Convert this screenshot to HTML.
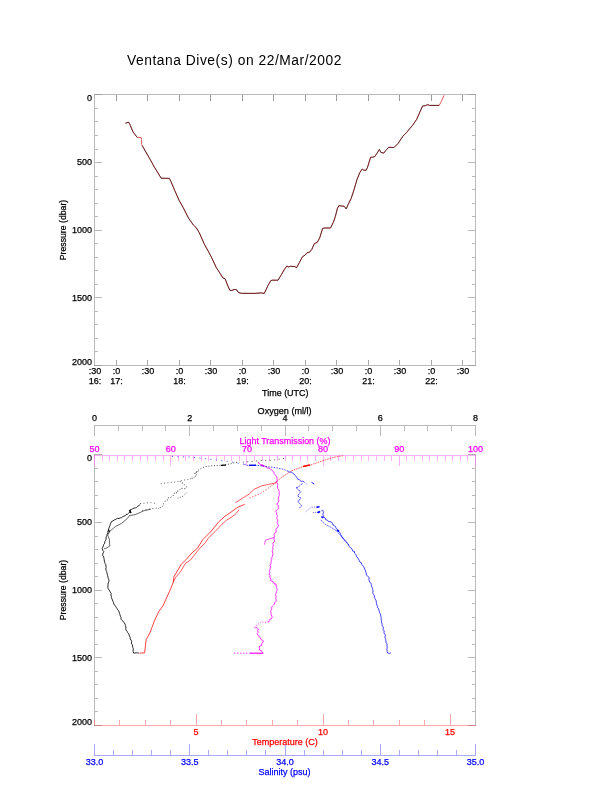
<!DOCTYPE html>
<html><head><meta charset="utf-8"><title>Ventana Dive(s) on 22/Mar/2002</title>
<style>
html,body{margin:0;padding:0;background:#fff;}
svg{display:block;}
text{font-family:"Liberation Sans",Arial,Helvetica,sans-serif;}
</style></head>
<body>
<svg width="612" height="785" viewBox="0 0 612 785">
<rect x="0" y="0" width="612" height="785" fill="#fff"/>
<rect x="94" y="94" width="382" height="1" fill="#bababa"/>
<rect x="94" y="365" width="382" height="1" fill="#bababa"/>
<rect x="94" y="94" width="1" height="272" fill="#bababa"/>
<rect x="475" y="94" width="1" height="272" fill="#bababa"/>
<rect x="94" y="94" width="8" height="1" fill="#bababa"/>
<rect x="468" y="94" width="8" height="1" fill="#bababa"/>
<rect x="94" y="108" width="4" height="1" fill="#bababa"/>
<rect x="472" y="108" width="4" height="1" fill="#bababa"/>
<rect x="94" y="121" width="4" height="1" fill="#bababa"/>
<rect x="472" y="121" width="4" height="1" fill="#bababa"/>
<rect x="94" y="135" width="4" height="1" fill="#bababa"/>
<rect x="472" y="135" width="4" height="1" fill="#bababa"/>
<rect x="94" y="149" width="4" height="1" fill="#bababa"/>
<rect x="472" y="149" width="4" height="1" fill="#bababa"/>
<rect x="94" y="162" width="8" height="1" fill="#bababa"/>
<rect x="468" y="162" width="8" height="1" fill="#bababa"/>
<rect x="94" y="176" width="4" height="1" fill="#bababa"/>
<rect x="472" y="176" width="4" height="1" fill="#bababa"/>
<rect x="94" y="189" width="4" height="1" fill="#bababa"/>
<rect x="472" y="189" width="4" height="1" fill="#bababa"/>
<rect x="94" y="203" width="4" height="1" fill="#bababa"/>
<rect x="472" y="203" width="4" height="1" fill="#bababa"/>
<rect x="94" y="216" width="4" height="1" fill="#bababa"/>
<rect x="472" y="216" width="4" height="1" fill="#bababa"/>
<rect x="94" y="230" width="8" height="1" fill="#bababa"/>
<rect x="468" y="230" width="8" height="1" fill="#bababa"/>
<rect x="94" y="243" width="4" height="1" fill="#bababa"/>
<rect x="472" y="243" width="4" height="1" fill="#bababa"/>
<rect x="94" y="257" width="4" height="1" fill="#bababa"/>
<rect x="472" y="257" width="4" height="1" fill="#bababa"/>
<rect x="94" y="270" width="4" height="1" fill="#bababa"/>
<rect x="472" y="270" width="4" height="1" fill="#bababa"/>
<rect x="94" y="284" width="4" height="1" fill="#bababa"/>
<rect x="472" y="284" width="4" height="1" fill="#bababa"/>
<rect x="94" y="297" width="8" height="1" fill="#bababa"/>
<rect x="468" y="297" width="8" height="1" fill="#bababa"/>
<rect x="94" y="311" width="4" height="1" fill="#bababa"/>
<rect x="472" y="311" width="4" height="1" fill="#bababa"/>
<rect x="94" y="324" width="4" height="1" fill="#bababa"/>
<rect x="472" y="324" width="4" height="1" fill="#bababa"/>
<rect x="94" y="338" width="4" height="1" fill="#bababa"/>
<rect x="472" y="338" width="4" height="1" fill="#bababa"/>
<rect x="94" y="351" width="4" height="1" fill="#bababa"/>
<rect x="472" y="351" width="4" height="1" fill="#bababa"/>
<rect x="94" y="365" width="8" height="1" fill="#bababa"/>
<rect x="468" y="365" width="8" height="1" fill="#bababa"/>
<rect x="94" y="94" width="8" height="1" fill="#a0a0a0"/>
<rect x="468" y="94" width="8" height="1" fill="#a0a0a0"/>
<rect x="94" y="365" width="8" height="1" fill="#a0a0a0"/>
<rect x="468" y="365" width="8" height="1" fill="#a0a0a0"/>
<rect x="116" y="95" width="1" height="6" fill="#9a9a9a"/>
<rect x="116" y="360" width="1" height="5" fill="#a8a8a8"/>
<rect x="147" y="95" width="1" height="6" fill="#9a9a9a"/>
<rect x="147" y="360" width="1" height="5" fill="#a8a8a8"/>
<rect x="179" y="95" width="1" height="6" fill="#9a9a9a"/>
<rect x="179" y="360" width="1" height="5" fill="#a8a8a8"/>
<rect x="210" y="95" width="1" height="6" fill="#9a9a9a"/>
<rect x="210" y="360" width="1" height="5" fill="#a8a8a8"/>
<rect x="242" y="95" width="1" height="6" fill="#9a9a9a"/>
<rect x="242" y="360" width="1" height="5" fill="#a8a8a8"/>
<rect x="273" y="95" width="1" height="6" fill="#9a9a9a"/>
<rect x="273" y="360" width="1" height="5" fill="#a8a8a8"/>
<rect x="305" y="95" width="1" height="6" fill="#9a9a9a"/>
<rect x="305" y="360" width="1" height="5" fill="#a8a8a8"/>
<rect x="336" y="95" width="1" height="6" fill="#9a9a9a"/>
<rect x="336" y="360" width="1" height="5" fill="#a8a8a8"/>
<rect x="368" y="95" width="1" height="6" fill="#9a9a9a"/>
<rect x="368" y="360" width="1" height="5" fill="#a8a8a8"/>
<rect x="399" y="95" width="1" height="6" fill="#9a9a9a"/>
<rect x="399" y="360" width="1" height="5" fill="#a8a8a8"/>
<rect x="431" y="95" width="1" height="6" fill="#9a9a9a"/>
<rect x="431" y="360" width="1" height="5" fill="#a8a8a8"/>
<rect x="462" y="95" width="1" height="6" fill="#9a9a9a"/>
<rect x="462" y="360" width="1" height="5" fill="#a8a8a8"/>
<text x="234.2" y="64.8" font-size="13.8" text-anchor="middle" fill="#000" textLength="214.5" lengthAdjust="spacing">Ventana Dive(s) on 22/Mar/2002</text>
<text x="92.1" y="100.5" font-size="9" text-anchor="end" fill="#000" stroke="#000" stroke-width="0.25" >0</text>
<text x="92.1" y="165.3" font-size="9" text-anchor="end" fill="#000" stroke="#000" stroke-width="0.25" >500</text>
<text x="92.1" y="233.0" font-size="9" text-anchor="end" fill="#000" stroke="#000" stroke-width="0.25" >1000</text>
<text x="92.1" y="301.0" font-size="9" text-anchor="end" fill="#000" stroke="#000" stroke-width="0.25" >1500</text>
<text x="92.1" y="364.8" font-size="9" text-anchor="end" fill="#000" stroke="#000" stroke-width="0.25" >2000</text>
<text transform="translate(66.2,230) rotate(-90)" x="0" y="0" font-size="9.6" text-anchor="middle" fill="#000" stroke="#000" stroke-width="0.25" textLength="60.5" lengthAdjust="spacingAndGlyphs">Pressure (dbar)</text>
<text x="95.1" y="374.0" font-size="9" text-anchor="middle" fill="#000" stroke="#000" stroke-width="0.25" >:30</text>
<text x="95.1" y="384.2" font-size="9" text-anchor="middle" fill="#000" stroke="#000" stroke-width="0.25" >16:</text>
<text x="116.4" y="374.0" font-size="9" text-anchor="middle" fill="#000" stroke="#000" stroke-width="0.25" >:0</text>
<text x="116.4" y="384.2" font-size="9" text-anchor="middle" fill="#000" stroke="#000" stroke-width="0.25" >17:</text>
<text x="147.9" y="374.0" font-size="9" text-anchor="middle" fill="#000" stroke="#000" stroke-width="0.25" >:30</text>
<text x="179.4" y="374.0" font-size="9" text-anchor="middle" fill="#000" stroke="#000" stroke-width="0.25" >:0</text>
<text x="179.4" y="384.2" font-size="9" text-anchor="middle" fill="#000" stroke="#000" stroke-width="0.25" >18:</text>
<text x="210.9" y="374.0" font-size="9" text-anchor="middle" fill="#000" stroke="#000" stroke-width="0.25" >:30</text>
<text x="242.4" y="374.0" font-size="9" text-anchor="middle" fill="#000" stroke="#000" stroke-width="0.25" >:0</text>
<text x="242.4" y="384.2" font-size="9" text-anchor="middle" fill="#000" stroke="#000" stroke-width="0.25" >19:</text>
<text x="274.0" y="374.0" font-size="9" text-anchor="middle" fill="#000" stroke="#000" stroke-width="0.25" >:30</text>
<text x="305.5" y="374.0" font-size="9" text-anchor="middle" fill="#000" stroke="#000" stroke-width="0.25" >:0</text>
<text x="305.5" y="384.2" font-size="9" text-anchor="middle" fill="#000" stroke="#000" stroke-width="0.25" >20:</text>
<text x="337.0" y="374.0" font-size="9" text-anchor="middle" fill="#000" stroke="#000" stroke-width="0.25" >:30</text>
<text x="368.5" y="374.0" font-size="9" text-anchor="middle" fill="#000" stroke="#000" stroke-width="0.25" >:0</text>
<text x="368.5" y="384.2" font-size="9" text-anchor="middle" fill="#000" stroke="#000" stroke-width="0.25" >21:</text>
<text x="400.0" y="374.0" font-size="9" text-anchor="middle" fill="#000" stroke="#000" stroke-width="0.25" >:30</text>
<text x="431.5" y="374.0" font-size="9" text-anchor="middle" fill="#000" stroke="#000" stroke-width="0.25" >:0</text>
<text x="431.5" y="384.2" font-size="9" text-anchor="middle" fill="#000" stroke="#000" stroke-width="0.25" >22:</text>
<text x="463.0" y="374.0" font-size="9" text-anchor="middle" fill="#000" stroke="#000" stroke-width="0.25" >:30</text>
<text x="285.3" y="395.8" font-size="9.5" text-anchor="middle" fill="#000" stroke="#000" stroke-width="0.25" textLength="46.5" lengthAdjust="spacingAndGlyphs" >Time (UTC)</text>
<polyline points="125.4,123.3 128.6,122.1 129.8,124.3 133.2,132.2 134.7,134.1 137.2,137.4 141.1,137.5 141.6,139.5 141.6,144.4 142.1,145.4 149.4,158.1 154.3,167 161.2,178.2 169.4,178.4 170.9,181.4 174.8,190.7 179.2,200.5 183.1,207.4 188.5,218.1 193.4,225 196.4,227.9 199.3,232.8 204.4,244.3 209.8,254.1 212.3,259 216.2,267.4 220.6,274.2 223,278.1 225,278.6 227.5,285 229.9,290.4 231.9,290.4 234.8,289.4 236.8,289.9 238.2,292.4 241.2,293.3 255,293.4 260.9,292.9 264.3,293.4 267.7,286.1 270.7,280.7 272.2,280.2 278,280.2 281,275.3 284.4,269.4 286.9,266 288.8,267 290.3,266.3 294.2,266.5 296.7,267.5 299.6,262.1 302.5,256.7 305,255.2 307,252.7 309.4,252.3 311.9,249.3 314.3,243.7 317.3,242.3 319.7,237.8 322.6,228.5 324.1,228 330.5,228 333.4,222.2 335.4,216.3 337.4,208.4 338.8,205.7 344.2,206.3 346.2,208.9 348.1,204.5 351.1,198.6 354,189.8 356.9,179.8 359.8,172.5 362.3,169 363.7,170.2 366.2,170.2 367.6,167.1 370.6,157.3 372.5,157.1 374.5,156.8 377,153.3 379.4,149.4 380.9,152.4 383.8,153.1 385.8,150.4 388.7,147.3 394.1,147.5 398,143.5 402.9,136.2 406.4,132.7 409.6,128.8 412.7,125.2 416.7,119.3 422.5,106.1 425.5,105.6 427.9,104.6 429.4,105.4 439.2,105.4 441.2,101.7 444.1,95.3" fill="none" stroke="#e05858" stroke-width="1.0" stroke-linejoin="round"/>
<polyline points="125.4,123.3 128.6,122.1 129.8,124.3 133.2,132.2 134.7,134.1 137.2,137.4" fill="none" stroke="#200808" stroke-width="0.65" stroke-linejoin="round"/>
<polyline points="142.1,145.4 149.4,158.1 154.3,167 161.2,178.2 169.4,178.4 170.9,181.4 174.8,190.7 179.2,200.5 183.1,207.4 188.5,218.1 193.4,225 196.4,227.9 199.3,232.8 204.4,244.3 209.8,254.1 212.3,259 216.2,267.4 220.6,274.2 223,278.1 225,278.6 227.5,285 229.9,290.4 231.9,290.4 234.8,289.4 236.8,289.9 238.2,292.4 241.2,293.3 255,293.4 260.9,292.9 264.3,293.4 267.7,286.1 270.7,280.7 272.2,280.2 278,280.2 281,275.3 284.4,269.4 286.9,266 288.8,267 290.3,266.3 294.2,266.5 296.7,267.5 299.6,262.1 302.5,256.7 305,255.2 307,252.7 309.4,252.3 311.9,249.3 314.3,243.7 317.3,242.3 319.7,237.8 322.6,228.5 324.1,228 330.5,228 333.4,222.2 335.4,216.3 337.4,208.4 338.8,205.7 344.2,206.3 346.2,208.9 348.1,204.5 351.1,198.6 354,189.8 356.9,179.8 359.8,172.5 362.3,169 363.7,170.2 366.2,170.2 367.6,167.1 370.6,157.3 372.5,157.1 374.5,156.8 377,153.3 379.4,149.4 380.9,152.4 383.8,153.1 385.8,150.4 388.7,147.3 394.1,147.5 398,143.5 402.9,136.2 406.4,132.7 409.6,128.8 412.7,125.2 416.7,119.3 422.5,106.1 425.5,105.6 427.9,104.6 429.4,105.4 439.2,105.4" fill="none" stroke="#200808" stroke-width="0.65" stroke-linejoin="round"/>
<rect x="94" y="466" width="1" height="260" fill="#bababa"/>
<rect x="475" y="466" width="1" height="260" fill="#bababa"/>
<rect x="94" y="468" width="4" height="1" fill="#bababa"/>
<rect x="472" y="468" width="4" height="1" fill="#bababa"/>
<rect x="94" y="481" width="4" height="1" fill="#bababa"/>
<rect x="472" y="481" width="4" height="1" fill="#bababa"/>
<rect x="94" y="495" width="4" height="1" fill="#bababa"/>
<rect x="472" y="495" width="4" height="1" fill="#bababa"/>
<rect x="94" y="508" width="4" height="1" fill="#bababa"/>
<rect x="472" y="508" width="4" height="1" fill="#bababa"/>
<rect x="94" y="522" width="8" height="1" fill="#bababa"/>
<rect x="468" y="522" width="8" height="1" fill="#bababa"/>
<rect x="94" y="536" width="4" height="1" fill="#bababa"/>
<rect x="472" y="536" width="4" height="1" fill="#bababa"/>
<rect x="94" y="549" width="4" height="1" fill="#bababa"/>
<rect x="472" y="549" width="4" height="1" fill="#bababa"/>
<rect x="94" y="563" width="4" height="1" fill="#bababa"/>
<rect x="472" y="563" width="4" height="1" fill="#bababa"/>
<rect x="94" y="576" width="4" height="1" fill="#bababa"/>
<rect x="472" y="576" width="4" height="1" fill="#bababa"/>
<rect x="94" y="590" width="8" height="1" fill="#bababa"/>
<rect x="468" y="590" width="8" height="1" fill="#bababa"/>
<rect x="94" y="603" width="4" height="1" fill="#bababa"/>
<rect x="472" y="603" width="4" height="1" fill="#bababa"/>
<rect x="94" y="617" width="4" height="1" fill="#bababa"/>
<rect x="472" y="617" width="4" height="1" fill="#bababa"/>
<rect x="94" y="630" width="4" height="1" fill="#bababa"/>
<rect x="472" y="630" width="4" height="1" fill="#bababa"/>
<rect x="94" y="644" width="4" height="1" fill="#bababa"/>
<rect x="472" y="644" width="4" height="1" fill="#bababa"/>
<rect x="94" y="657" width="8" height="1" fill="#bababa"/>
<rect x="468" y="657" width="8" height="1" fill="#bababa"/>
<rect x="94" y="671" width="4" height="1" fill="#bababa"/>
<rect x="472" y="671" width="4" height="1" fill="#bababa"/>
<rect x="94" y="684" width="4" height="1" fill="#bababa"/>
<rect x="472" y="684" width="4" height="1" fill="#bababa"/>
<rect x="94" y="698" width="4" height="1" fill="#bababa"/>
<rect x="472" y="698" width="4" height="1" fill="#bababa"/>
<rect x="94" y="711" width="4" height="1" fill="#bababa"/>
<rect x="472" y="711" width="4" height="1" fill="#bababa"/>
<rect x="94" y="455" width="382" height="1" fill="#ffb0f6"/>
<rect x="94" y="455" width="1" height="11" fill="#ffb0f6"/>
<rect x="102" y="455" width="1" height="6" fill="#ffb0f6"/>
<rect x="109" y="455" width="1" height="6" fill="#ffb0f6"/>
<rect x="117" y="455" width="1" height="6" fill="#ffb0f6"/>
<rect x="124" y="455" width="1" height="6" fill="#ffb0f6"/>
<rect x="132" y="455" width="1" height="6" fill="#ffb0f6"/>
<rect x="140" y="455" width="1" height="6" fill="#ffb0f6"/>
<rect x="147" y="455" width="1" height="6" fill="#ffb0f6"/>
<rect x="155" y="455" width="1" height="6" fill="#ffb0f6"/>
<rect x="163" y="455" width="1" height="6" fill="#ffb0f6"/>
<rect x="170" y="455" width="1" height="11" fill="#ffb0f6"/>
<rect x="178" y="455" width="1" height="6" fill="#ffb0f6"/>
<rect x="185" y="455" width="1" height="6" fill="#ffb0f6"/>
<rect x="193" y="455" width="1" height="6" fill="#ffb0f6"/>
<rect x="201" y="455" width="1" height="6" fill="#ffb0f6"/>
<rect x="208" y="455" width="1" height="6" fill="#ffb0f6"/>
<rect x="216" y="455" width="1" height="6" fill="#ffb0f6"/>
<rect x="224" y="455" width="1" height="6" fill="#ffb0f6"/>
<rect x="231" y="455" width="1" height="6" fill="#ffb0f6"/>
<rect x="239" y="455" width="1" height="6" fill="#ffb0f6"/>
<rect x="246" y="455" width="1" height="11" fill="#ffb0f6"/>
<rect x="254" y="455" width="1" height="6" fill="#ffb0f6"/>
<rect x="262" y="455" width="1" height="6" fill="#ffb0f6"/>
<rect x="269" y="455" width="1" height="6" fill="#ffb0f6"/>
<rect x="277" y="455" width="1" height="6" fill="#ffb0f6"/>
<rect x="285" y="455" width="1" height="6" fill="#ffb0f6"/>
<rect x="292" y="455" width="1" height="6" fill="#ffb0f6"/>
<rect x="300" y="455" width="1" height="6" fill="#ffb0f6"/>
<rect x="307" y="455" width="1" height="6" fill="#ffb0f6"/>
<rect x="315" y="455" width="1" height="6" fill="#ffb0f6"/>
<rect x="323" y="455" width="1" height="11" fill="#ffb0f6"/>
<rect x="330" y="455" width="1" height="6" fill="#ffb0f6"/>
<rect x="338" y="455" width="1" height="6" fill="#ffb0f6"/>
<rect x="345" y="455" width="1" height="6" fill="#ffb0f6"/>
<rect x="353" y="455" width="1" height="6" fill="#ffb0f6"/>
<rect x="361" y="455" width="1" height="6" fill="#ffb0f6"/>
<rect x="368" y="455" width="1" height="6" fill="#ffb0f6"/>
<rect x="376" y="455" width="1" height="6" fill="#ffb0f6"/>
<rect x="384" y="455" width="1" height="6" fill="#ffb0f6"/>
<rect x="391" y="455" width="1" height="6" fill="#ffb0f6"/>
<rect x="399" y="455" width="1" height="11" fill="#ffb0f6"/>
<rect x="406" y="455" width="1" height="6" fill="#ffb0f6"/>
<rect x="414" y="455" width="1" height="6" fill="#ffb0f6"/>
<rect x="422" y="455" width="1" height="6" fill="#ffb0f6"/>
<rect x="429" y="455" width="1" height="6" fill="#ffb0f6"/>
<rect x="437" y="455" width="1" height="6" fill="#ffb0f6"/>
<rect x="445" y="455" width="1" height="6" fill="#ffb0f6"/>
<rect x="452" y="455" width="1" height="6" fill="#ffb0f6"/>
<rect x="460" y="455" width="1" height="6" fill="#ffb0f6"/>
<rect x="467" y="455" width="1" height="6" fill="#ffb0f6"/>
<rect x="475" y="455" width="1" height="11" fill="#ffb0f6"/>
<rect x="94" y="455" width="1" height="11" fill="#e48ede"/>
<rect x="475" y="455" width="1" height="11" fill="#e48ede"/>
<rect x="94" y="454" width="8" height="1" fill="#b0b0b0"/>
<rect x="468" y="454" width="8" height="1" fill="#b0b0b0"/>
<rect x="94" y="725" width="382" height="1" fill="#ffa8ac"/>
<rect x="94" y="720" width="1" height="6" fill="#ffa8ac"/>
<rect x="119" y="720" width="1" height="6" fill="#ffa8ac"/>
<rect x="145" y="720" width="1" height="6" fill="#ffa8ac"/>
<rect x="170" y="720" width="1" height="6" fill="#ffa8ac"/>
<rect x="196" y="714" width="1" height="12" fill="#ffa8ac"/>
<rect x="221" y="720" width="1" height="6" fill="#ffa8ac"/>
<rect x="246" y="720" width="1" height="6" fill="#ffa8ac"/>
<rect x="272" y="720" width="1" height="6" fill="#ffa8ac"/>
<rect x="297" y="720" width="1" height="6" fill="#ffa8ac"/>
<rect x="323" y="714" width="1" height="12" fill="#ffa8ac"/>
<rect x="348" y="720" width="1" height="6" fill="#ffa8ac"/>
<rect x="373" y="720" width="1" height="6" fill="#ffa8ac"/>
<rect x="399" y="720" width="1" height="6" fill="#ffa8ac"/>
<rect x="424" y="720" width="1" height="6" fill="#ffa8ac"/>
<rect x="450" y="714" width="1" height="12" fill="#ffa8ac"/>
<rect x="94" y="720" width="1" height="5" fill="#dc8c8c"/>
<rect x="94" y="725" width="8" height="1" fill="#cc8484"/>
<rect x="468" y="725" width="8" height="1" fill="#cc8484"/>
<rect x="94" y="425" width="382" height="1" fill="#bababa"/>
<rect x="94" y="425" width="1" height="11" fill="#bababa"/>
<rect x="118" y="425" width="1" height="6" fill="#bababa"/>
<rect x="142" y="425" width="1" height="6" fill="#bababa"/>
<rect x="165" y="425" width="1" height="6" fill="#bababa"/>
<rect x="189" y="425" width="1" height="11" fill="#bababa"/>
<rect x="213" y="425" width="1" height="6" fill="#bababa"/>
<rect x="237" y="425" width="1" height="6" fill="#bababa"/>
<rect x="261" y="425" width="1" height="6" fill="#bababa"/>
<rect x="285" y="425" width="1" height="11" fill="#bababa"/>
<rect x="308" y="425" width="1" height="6" fill="#bababa"/>
<rect x="332" y="425" width="1" height="6" fill="#bababa"/>
<rect x="356" y="425" width="1" height="6" fill="#bababa"/>
<rect x="380" y="425" width="1" height="11" fill="#bababa"/>
<rect x="404" y="425" width="1" height="6" fill="#bababa"/>
<rect x="427" y="425" width="1" height="6" fill="#bababa"/>
<rect x="451" y="425" width="1" height="6" fill="#bababa"/>
<rect x="475" y="425" width="1" height="11" fill="#bababa"/>
<rect x="94" y="755" width="382" height="1" fill="#a8a8ff"/>
<rect x="94" y="744" width="1" height="12" fill="#a8a8ff"/>
<rect x="113" y="750" width="1" height="6" fill="#a8a8ff"/>
<rect x="132" y="750" width="1" height="6" fill="#a8a8ff"/>
<rect x="151" y="750" width="1" height="6" fill="#a8a8ff"/>
<rect x="170" y="750" width="1" height="6" fill="#a8a8ff"/>
<rect x="189" y="744" width="1" height="12" fill="#a8a8ff"/>
<rect x="208" y="750" width="1" height="6" fill="#a8a8ff"/>
<rect x="227" y="750" width="1" height="6" fill="#a8a8ff"/>
<rect x="246" y="750" width="1" height="6" fill="#a8a8ff"/>
<rect x="265" y="750" width="1" height="6" fill="#a8a8ff"/>
<rect x="285" y="744" width="1" height="12" fill="#a8a8ff"/>
<rect x="304" y="750" width="1" height="6" fill="#a8a8ff"/>
<rect x="323" y="750" width="1" height="6" fill="#a8a8ff"/>
<rect x="342" y="750" width="1" height="6" fill="#a8a8ff"/>
<rect x="361" y="750" width="1" height="6" fill="#a8a8ff"/>
<rect x="380" y="744" width="1" height="12" fill="#a8a8ff"/>
<rect x="399" y="750" width="1" height="6" fill="#a8a8ff"/>
<rect x="418" y="750" width="1" height="6" fill="#a8a8ff"/>
<rect x="437" y="750" width="1" height="6" fill="#a8a8ff"/>
<rect x="456" y="750" width="1" height="6" fill="#a8a8ff"/>
<rect x="475" y="744" width="1" height="12" fill="#a8a8ff"/>
<text x="94.5" y="421.2" font-size="9" text-anchor="middle" fill="#000" stroke="#000" stroke-width="0.25" >0</text>
<text x="189.75" y="421.2" font-size="9" text-anchor="middle" fill="#000" stroke="#000" stroke-width="0.25" >2</text>
<text x="285.0" y="421.2" font-size="9" text-anchor="middle" fill="#000" stroke="#000" stroke-width="0.25" >4</text>
<text x="380.25" y="421.2" font-size="9" text-anchor="middle" fill="#000" stroke="#000" stroke-width="0.25" >6</text>
<text x="475.5" y="421.2" font-size="9" text-anchor="middle" fill="#000" stroke="#000" stroke-width="0.25" >8</text>
<text x="284.6" y="413.7" font-size="9.5" text-anchor="middle" fill="#000" stroke="#000" stroke-width="0.25" textLength="54" lengthAdjust="spacingAndGlyphs" >Oxygen (ml/l)</text>
<text x="94.5" y="452.0" font-size="9" text-anchor="middle" fill="#ff00ff" stroke="#ff00ff" stroke-width="0.25" >50</text>
<text x="170.7" y="452.0" font-size="9" text-anchor="middle" fill="#ff00ff" stroke="#ff00ff" stroke-width="0.25" >60</text>
<text x="246.9" y="452.0" font-size="9" text-anchor="middle" fill="#ff00ff" stroke="#ff00ff" stroke-width="0.25" >70</text>
<text x="323.1" y="452.0" font-size="9" text-anchor="middle" fill="#ff00ff" stroke="#ff00ff" stroke-width="0.25" >80</text>
<text x="399.3" y="452.0" font-size="9" text-anchor="middle" fill="#ff00ff" stroke="#ff00ff" stroke-width="0.25" >90</text>
<text x="475.5" y="452.0" font-size="9" text-anchor="middle" fill="#ff00ff" stroke="#ff00ff" stroke-width="0.25" >100</text>
<text x="285.0" y="444.0" font-size="9.5" text-anchor="middle" fill="#ff00ff" stroke="#ff00ff" stroke-width="0.25" textLength="91" lengthAdjust="spacingAndGlyphs" >Light Transmission (%)</text>
<text x="92.1" y="460.8" font-size="9" text-anchor="end" fill="#000" stroke="#000" stroke-width="0.25" >0</text>
<text x="92.1" y="525.3" font-size="9" text-anchor="end" fill="#000" stroke="#000" stroke-width="0.25" >500</text>
<text x="92.1" y="593.4" font-size="9" text-anchor="end" fill="#000" stroke="#000" stroke-width="0.25" >1000</text>
<text x="92.1" y="661.3" font-size="9" text-anchor="end" fill="#000" stroke="#000" stroke-width="0.25" >1500</text>
<text x="92.1" y="724.9" font-size="9" text-anchor="end" fill="#000" stroke="#000" stroke-width="0.25" >2000</text>
<text transform="translate(66.2,590) rotate(-90)" x="0" y="0" font-size="9.6" text-anchor="middle" fill="#000" stroke="#000" stroke-width="0.25" textLength="60.5" lengthAdjust="spacingAndGlyphs">Pressure (dbar)</text>
<text x="196.1" y="735.0" font-size="9" text-anchor="middle" fill="#ff0000" stroke="#ff0000" stroke-width="0.25" >5</text>
<text x="323.1" y="735.0" font-size="9" text-anchor="middle" fill="#ff0000" stroke="#ff0000" stroke-width="0.25" >10</text>
<text x="450.1" y="735.0" font-size="9" text-anchor="middle" fill="#ff0000" stroke="#ff0000" stroke-width="0.25" >15</text>
<text x="284.9" y="744.8" font-size="9.5" text-anchor="middle" fill="#ff0000" stroke="#ff0000" stroke-width="0.25" textLength="65.5" lengthAdjust="spacingAndGlyphs" >Temperature (C)</text>
<text x="94.5" y="765.0" font-size="9" text-anchor="middle" fill="#0000ff" stroke="#0000ff" stroke-width="0.25" >33.0</text>
<text x="189.75" y="765.0" font-size="9" text-anchor="middle" fill="#0000ff" stroke="#0000ff" stroke-width="0.25" >33.5</text>
<text x="285.0" y="765.0" font-size="9" text-anchor="middle" fill="#0000ff" stroke="#0000ff" stroke-width="0.25" >34.0</text>
<text x="380.25" y="765.0" font-size="9" text-anchor="middle" fill="#0000ff" stroke="#0000ff" stroke-width="0.25" >34.5</text>
<text x="475.5" y="765.0" font-size="9" text-anchor="middle" fill="#0000ff" stroke="#0000ff" stroke-width="0.25" >35.0</text>
<text x="284.5" y="775.2" font-size="9.5" text-anchor="middle" fill="#0000ff" stroke="#0000ff" stroke-width="0.25" textLength="52" lengthAdjust="spacingAndGlyphs" >Salinity (psu)</text>
<polyline points="284,458.4 271.3,460.4 261.5,460.4 253.2,461.4 245.8,461.9 239,462.4" fill="none" stroke="#000" stroke-width="0.7" stroke-linejoin="round" stroke-dasharray="1 3.5"/>
<polyline points="193.9,473.9 199.3,469.4 204.7,466.7 211.9,465.8 220.9,465.4 229.9,464 237,462.2" fill="none" stroke="#000" stroke-width="0.7" stroke-linejoin="round" stroke-dasharray="1 1.8"/>
<polyline points="221,465.4 226,465.2" fill="none" stroke="#000" stroke-width="1.3" stroke-linejoin="round"/>
<polyline points="198.18,471.22 197.1,472.44 195.26,473.04 196.42,474.39 195.97,475.95 194.6,476.94 193.32,478.13 191.49,478.24 190,479" fill="none" stroke="#000" stroke-width="0.7" stroke-linejoin="round" stroke-dasharray="1.2 1"/>
<polyline points="188.5,479.3 183.1,480.2 175.9,482 167,482.9 160.7,483.8" fill="none" stroke="#000" stroke-width="0.6" stroke-linejoin="round" stroke-dasharray="1 2.4"/>
<polyline points="180.01,481.23 180.92,482.79 182.68,483.08 184.0,484.02 185.01,485.49 186.5,486.78 185.58,488.54 184.17,488.78 182.57,488.43 180.8,488.35 179.86,489.87 178.71,491.07 176.72,491.01 176.45,493.42 174.3,493.03 173.82,494.83 172.83,495.97 171.66,496.91 170.23,497.51 168.35,497.65 168.05,499.75 166.28,500.38 164.98,501.53 164.5,502.98 163.33,503.89 163.18,505.62 162.13,506.9 160.75,507.57 158.98,507.71 158,508.9" fill="none" stroke="#000" stroke-width="0.65" stroke-linejoin="round" stroke-dasharray="1.2 1.6"/>
<polyline points="186.7,492.7 183.1,496.3 177.7,498.1" fill="none" stroke="#000" stroke-width="0.6" stroke-linejoin="round" stroke-dasharray="1 1.5"/>
<polyline points="140,503.5 150.8,502.6 156.2,503.5" fill="none" stroke="#000" stroke-width="0.6" stroke-linejoin="round" stroke-dasharray="1 2.5"/>
<polyline points="142,510.5 149,508.9 158,508" fill="none" stroke="#000" stroke-width="0.6" stroke-linejoin="round" stroke-dasharray="1 2.5"/>
<polyline points="140.24,504.34 139.13,505.41 137.82,506.25 136.71,507.33 135.5,507.93 134.1,508.04 132.86,508.59 131.73,509.41 130.34,509.69 130.13,511.15 129.75,512.34 128.56,513.19 127.48,514.25 126.03,514.45 125.19,515.72 123.89,516.2 122.58,516.64 121.57,517.77 120.2,517.84 118.99,518.52 117.54,518.38 116.32,518.91 115.21,519.65 113.92,520.03 112.95,521.03 111.56,521.43 110.93,522.92 110.24,524.38 110.0,525.71 109.37,526.93 108.98,528.14 108.32,530.31 107.84,531.57 107.97,532.99 107.14,534.16 106.85,535.47 106.25,536.7 106.06,538.01 105.99,539.39 105.44,540.58 104.75,541.73 104.75,543.16 103.8,544.36 103.39,545.81 102.8,547.18 102.21,548.23 102.51,550.0 103.78,551.49 103.24,552.81 102.68,554.08 102.75,555.65 103.79,556.94 103.94,558.49 104.22,559.77 104.33,561.1 104.73,562.35 105.06,563.62 105.88,564.78 105.92,566.13 106.11,567.45 105.84,568.83 105.94,570.17 106.73,571.44 106.85,572.72 107.24,574.16 107.68,575.58 107.93,577.06 108.29,578.5 108.99,579.94 108.89,581.48 108.26,582.91 108.0,584.39 108.01,585.87 107.87,587.37 108.27,588.88 109.12,590.01 109.79,591.25 110.46,592.43 111.25,593.58 110.89,595.01 111.28,596.25 111.51,597.54 111.87,598.79 112.48,599.97 112.98,601.41 113.7,602.76 113.81,604.36 114.92,605.21 115.65,606.31 116.29,607.47 117.06,608.55 117.67,609.73 118.64,610.78 119.16,612.12 119.53,613.51 120.05,614.84 120.34,616.26 121.07,617.52 120.96,619.18 122.05,620.33 123.28,621.38 124.14,622.71 125.02,624.07 125.38,625.55 125.94,626.98 125.75,628.59 126.05,630.17 127.02,631.22 127.61,632.46 128.5,633.56 129.09,634.79 129.51,636.11 130.18,637.35 130.19,638.94 131.14,640.24 131.69,641.67 131.41,643.34 132.18,644.7 132.73,646.0 132.67,647.41 133.32,648.68 133.18,650.1 133.07,651.52 133.68,653.09 134.99,653.03 136.31,652.76 137.61,652.92 138.9,653.1" fill="none" stroke="#000" stroke-width="0.85" stroke-linejoin="round"/>
<polyline points="150.9,509.2 144.1,510.7 135.3,514.6 129.4,515.6 127.4,518.5 121.5,523.4 115.6,526.4 109.8,531.3 107.8,535.2 109.3,539.1 109.8,546 106.8,547.9 103.9,548.9" fill="none" stroke="#000" stroke-width="0.6" stroke-linejoin="round"/>
<polyline points="129.5,510 131,513" fill="none" stroke="#000" stroke-width="1.6" stroke-linejoin="round"/>
<polyline points="108.5,530 109.5,532" fill="none" stroke="#000" stroke-width="1.4" stroke-linejoin="round"/>
<polyline points="139.6,653.1 144.7,652.8 145.5,644.7 146.2,639.6 149.9,632.9 154.3,621.2 158.7,611.6 163.1,605.7 166,599.1 170.7,588.8 173.2,582.3 174,576.6 181.3,564.3 186.2,559.4 192.8,552.1 197.7,548 202.6,539.8 210.8,531.6 218.5,522.1 224.1,516.9 229.9,512.9 237.9,507.2 244.7,504.3" fill="none" stroke="#ff0000" stroke-width="0.75" stroke-linejoin="round"/>
<polyline points="173.2,582.3 175.6,577.4 180.5,571.7 185.4,563.5 190.3,560.2 199.3,548.8 205,543.1 208.3,538.2 215,531.6 218.5,528 221.9,524.3 226.4,520.3 234.4,515.2 239,510" fill="none" stroke="#ff0000" stroke-width="0.65" stroke-linejoin="round"/>
<polyline points="235.6,502.6 243.6,497.5 249.3,494 254.1,489.3 261.5,485.9 268.4,484.4 275.2,483 277.2,481" fill="none" stroke="#ff0000" stroke-width="0.65" stroke-linejoin="round"/>
<polyline points="277.2,481 282.1,477.1 288,473.1 291.9,470.7 296,469.2 304.7,466 310.6,465 322.4,460.9 334.1,457.2 342.9,455.7" fill="none" stroke="#ff0000" stroke-width="0.65" stroke-linejoin="round" stroke-dasharray="1.6 0.9"/>
<polyline points="249.3,498 258.5,494.6 267.4,488.8 273.3,484.4 276.8,482.6" fill="none" stroke="#ff0000" stroke-width="0.6" stroke-linejoin="round" stroke-dasharray="1.5 1.5"/>
<polyline points="303,466.5 310,465" fill="none" stroke="#ff0000" stroke-width="1.3" stroke-linejoin="round"/>
<polyline points="258.32,461.98 258.99,463.7 260.48,464.35 261.6,465.36 263.22,465.39 264.52,465.87 265.9,467.25 267.45,467.98 268.99,468.17 270.53,469.11 271.84,469.92 272.59,471.17 273.96,472.11 274.17,473.61 275.07,474.79 276.2,475.86 276.93,477.32 276.88,478.75 277.24,480.07 276.9,481.58 276.83,482.98 277.95,484.08 277.5,485.46 277.56,487.0 277.74,488.53 278.82,489.99 279.1,491.35 279.14,492.71 279.23,494.07 279.27,495.43 278.65,496.82 278.26,498.2 278.41,499.56 279.03,500.91 277.93,502.49 276.85,504.47 278.49,505.6 278.19,507.46 278.63,508.36 277.61,509.29 276.51,510.1 275.63,511.19 276.65,512.56 276.3,514.43 277.57,515.78 276.91,517.15 276.72,518.48 277.72,519.73 277.8,521.05 277.02,522.42 277.46,523.71 278.4,525.16 278.07,526.43 277.63,527.67 276.08,528.55 275.83,529.86 276.4,531.64 274.92,532.81 274.24,534.22 274.3,535.85 274.34,537.42 273.88,538.85 274.41,540.38 274.45,541.85 272.79,543.17 273.16,544.68 273.22,546.16 272.44,547.57 273.11,549.11 272.27,550.51 272.21,551.99 273.05,553.61 272.64,555.07 272.22,556.53 271.95,558.02 271.06,559.38 271.38,560.93 270.93,562.37 271.18,563.9 269.75,565.25 270.52,566.79 270.23,568.24 269.92,569.69 269.29,571.12 269.94,572.64 269.04,574.17 269.84,575.42 269.93,576.75 270.08,578.06 271.03,579.3 270.46,580.62 271.99,581.21 273.46,581.9 274.02,583.87 276.1,584.23 276.14,585.85 276.26,587.45 277.01,588.78 277.07,590.34 276.47,591.75 276.11,593.22 275.45,594.63 276.23,596.15 275.65,598.11 276.29,600.11 275.84,601.54 274.73,602.66 274.36,604.02 273.57,605.1 272.58,606.05 271.58,607.19 271.79,608.9 271.03,610.28 270.69,611.8 271.06,613.25 271.15,614.78 271.9,616.13 272.16,617.57 271.3,618.75 269.8,619.4 269.18,620.77 268.5,622.1" fill="none" stroke="#ff00ff" stroke-width="0.8" stroke-linejoin="round"/>
<polyline points="268.5,622.1 261.2,622.1 254.6,626.5" fill="none" stroke="#ff00ff" stroke-width="0.7" stroke-linejoin="round" stroke-dasharray="1 1.5"/>
<polyline points="254.27,627.0 255.31,627.82 257.01,627.63 257.85,628.75 258.37,629.08 257.78,630.62 258.05,632.59 257.31,633.47 257.6,634.85 258.82,635.62 259.32,636.87 260.05,637.61 260.79,639.17 261.93,640.06 262.81,640.16 263.41,641.84 262.08,642.74 261.69,643.96 261.65,645.51 259.94,645.96 259.1,646.99 259.32,648.18 259.59,650.11 261.34,650.61 261.92,651.79 262.6,652.9" fill="none" stroke="#ff00ff" stroke-width="0.8" stroke-linejoin="round"/>
<polyline points="274.1,537.4 265.3,540.3 264.6,544.7" fill="none" stroke="#ff00ff" stroke-width="0.7" stroke-linejoin="round"/>
<polyline points="234,653.2 250,653.2" fill="none" stroke="#ff00ff" stroke-width="0.8" stroke-linejoin="round" stroke-dasharray="1.5 1.5"/>
<polyline points="250,653.2 263.4,653.2" fill="none" stroke="#ff00ff" stroke-width="1.2" stroke-linejoin="round"/>
<polyline points="261,465.2 264,466" fill="none" stroke="#ff00ff" stroke-width="1.8" stroke-linejoin="round"/>
<polyline points="244.3,464.3 246.8,465.3 250.7,465.3 254.6,465.3 261.5,465.8 267.4,466.8 273.3,467.3 278.2,468.2 283,469.2 288,471.1" fill="none" stroke="#0000ff" stroke-width="0.7" stroke-linejoin="round" stroke-dasharray="1.5 1.2"/>
<polyline points="287.82,471.56 289.68,472.11 291.79,472.22 292.94,473.29 294.19,474.21 295.23,475.46 296.24,476.71 297.04,477.89 297.68,479.29 299.26,479.46 300.17,480.68 301.41,481.34 302.77,481.12 304,481.8" fill="none" stroke="#0000ff" stroke-width="0.7" stroke-linejoin="round"/>
<polyline points="249,465.3 256,465.3" fill="none" stroke="#0000ff" stroke-width="1.4" stroke-linejoin="round"/>
<polyline points="172,456.5 190,457 206,458.8 220,460.4 232,462 244.3,464.3" fill="none" stroke="#0000ff" stroke-width="0.7" stroke-linejoin="round" stroke-dasharray="1 4.5"/>
<polyline points="302.47,483.81 300.82,484.55 299.59,485.78 298.34,487.14 295.95,487.75 297.27,488.63 298.17,489.93 301.02,491.56 299.91,492.71 299.4,494.03 297.83,495.01 297.99,496.19 299.31,496.73 300.26,497.86 301.05,498.15 299.93,499.04 299.21,500.56 298.23,500.64 298.18,502.52 299.51,503.27 300.25,504.5 301.86,505.86 300.55,507.25 298.7,508.1" fill="none" stroke="#0000ff" stroke-width="0.7" stroke-linejoin="round" stroke-dasharray="2 0.8"/>
<polyline points="304,481.8 307.6,484.9" fill="none" stroke="#0000ff" stroke-width="0.6" stroke-linejoin="round" stroke-dasharray="1 1.2"/>
<polyline points="311.5,482.3 314.3,484" fill="none" stroke="#0000ff" stroke-width="0.9" stroke-linejoin="round"/>
<polyline points="305.8,511.7 311.2,507.2 316.5,507.2 319.2,506.3" fill="none" stroke="#0000ff" stroke-width="0.6" stroke-linejoin="round" stroke-dasharray="1 1.5"/>
<polyline points="316.5,507.2 319.5,506.8" fill="none" stroke="#0000ff" stroke-width="1.6" stroke-linejoin="round"/>
<polyline points="317.5,512.8 320,511.5" fill="none" stroke="#0000ff" stroke-width="1.8" stroke-linejoin="round"/>
<polyline points="313,512.5 318.3,512.6 322.8,509.9" fill="none" stroke="#0000ff" stroke-width="0.6" stroke-linejoin="round" stroke-dasharray="1 1.2"/>
<polyline points="321.5,516.5 323,518" fill="none" stroke="#0000ff" stroke-width="1.5" stroke-linejoin="round"/>
<polyline points="322.58,509.93 323.05,511.31 323.63,512.68 322.76,514.22 323.28,515.6 323.34,517.26 325.15,517.85 325.7,519.7 327.39,520.12 328.54,521.6 330.22,521.75 331.85,522.28 332.53,523.62 333.06,525.07 334.57,525.78 335.59,526.87 336.09,528.34 337.26,529.32 338.12,530.31 338.81,531.42 339.66,532.42 340.25,533.6 340.87,534.75 341.62,535.82 341.91,537.2 343.1,537.95 343.78,539.27 344.97,540.2 345.7,541.49 346.89,542.42 347.56,543.75 348.64,544.72 348.97,546.4 350.12,547.37 351.43,548.2 352.16,549.55 352.73,551.03 354.5,551.56 354.51,553.21 355.64,554.19 356.31,555.45 356.69,556.87 357.88,557.82 358.49,559.1 359.18,560.46 359.76,561.9 361.25,562.69 361.64,564.26 362.63,565.41 363.54,566.55 364.25,567.93 364.76,569.37 365.53,570.73 365.89,572.21 366.33,573.52 366.38,575.06 367.59,575.84 368.41,576.88 369.27,578.04 368.84,579.6 369.24,580.88 369.89,582.08 370.76,583.2 371.24,584.46 371.61,585.75 371.85,587.09 372.56,588.28 372.59,589.66 373.16,590.89 372.72,592.4 373.07,593.69 373.92,594.84 374.63,596.03 374.16,597.55 375.28,598.61 375.59,599.9 376.36,601.06 376.29,602.46 376.54,603.77 376.87,605.05 377.58,606.23 377.59,607.6 378.59,608.68 378.73,610.05 379.35,611.26 379.43,612.65 380.26,613.78 380.71,615.05 380.83,616.45 381.2,617.72 381.08,619.1 381.44,620.38 381.47,621.73 381.87,622.99 382.09,624.3 382.19,625.63 383.05,626.79 383.41,628.06 382.94,629.54 384.27,630.76 383.97,632.4 384.43,633.84 385.5,635.13 384.94,636.83 385.24,638.28 385.8,639.71 385.92,641.21 386.08,642.71 387.13,644.06 386.92,645.62 387.19,647.1 386.9,648.58 387.04,650.03 387.11,651.48 387.6,653.0 389.25,653.37 390.9,652.9" fill="none" stroke="#0000ff" stroke-width="0.75" stroke-linejoin="round"/>
<polyline points="321,519.7 321.9,521.5 326.3,525 331.7,527.7 337,531.3 344.4,540.3 348.8,545" fill="none" stroke="#0000ff" stroke-width="0.6" stroke-linejoin="round" stroke-dasharray="2 0.8"/>
<polyline points="337,530 339,531.5" fill="none" stroke="#0000ff" stroke-width="1.6" stroke-linejoin="round"/>
</svg>
</body></html>
